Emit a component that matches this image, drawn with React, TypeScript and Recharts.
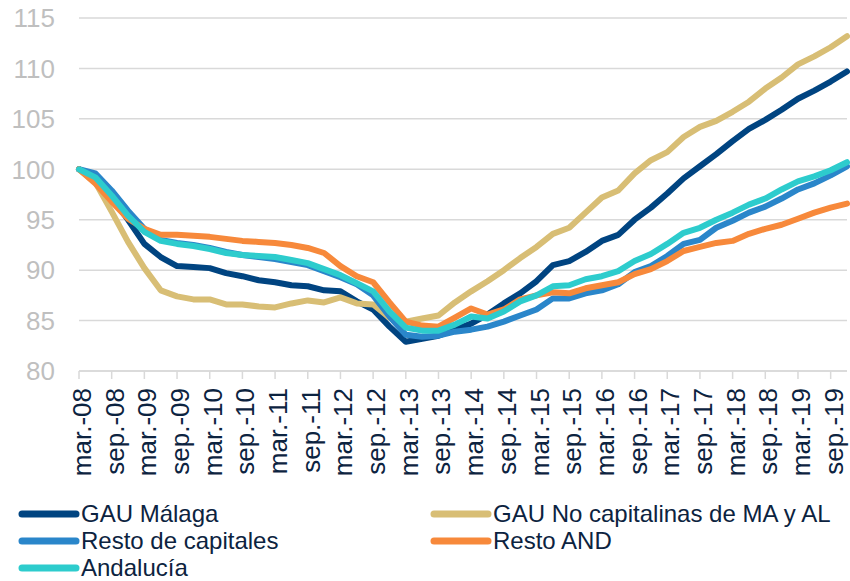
import { CartesianGrid, Legend, Line, LineChart, XAxis, YAxis } from "recharts";

const years = ["08", "09", "10", "11", "12", "13", "14", "15", "16", "17", "18", "19"];
const months = ["mar.", "jun.", "sep.", "dic."];
const quarters = years.flatMap((y) => months.map((m) => `${m}-${y}`));

const gauMalaga = [
  100, 99.2, 97.2, 95.0, 92.6, 91.3, 90.4, 90.3, 90.2, 89.7, 89.4, 89.0,
  88.8, 88.5, 88.4, 88.0, 87.9, 86.9, 86.1, 84.4, 82.9, 83.2, 83.5, 84.1,
  84.7, 85.6, 86.7, 87.7, 88.9, 90.5, 90.9, 91.8, 92.9, 93.5, 95.0, 96.2,
  97.6, 99.1, 100.3, 101.5, 102.8, 104.0, 104.9, 105.9, 107.0, 107.8, 108.7, 109.7,
];
const gauNoCapitalinas = [
  100, 98.7, 95.8, 92.8, 90.2, 88.0, 87.4, 87.1, 87.1, 86.6, 86.6, 86.4,
  86.3, 86.7, 87.0, 86.8, 87.3, 86.7, 86.6, 85.3, 84.9, 85.2, 85.5, 86.8,
  87.9, 88.9, 90.0, 91.2, 92.3, 93.6, 94.2, 95.7, 97.2, 97.9, 99.6, 100.9,
  101.7, 103.2, 104.2, 104.8, 105.7, 106.7, 108.0, 109.1, 110.4, 111.2, 112.1, 113.2,
];
const restoCapitales = [
  100, 99.6, 97.9, 95.9, 94.1, 93.0, 92.7, 92.5, 92.2, 91.8, 91.5, 91.3,
  91.1, 90.8, 90.5, 89.9, 89.3, 88.6, 87.5, 85.4, 83.6, 83.4, 83.5, 83.9,
  84.1, 84.4, 84.9, 85.5, 86.1, 87.2, 87.2, 87.7, 88.0, 88.6, 89.8, 90.4,
  91.4, 92.6, 93.0, 94.2, 94.9, 95.7, 96.3, 97.1, 98.0, 98.6, 99.4, 100.3,
];
const restoAnd = [
  100, 98.6, 96.8, 95.1, 94.1, 93.5, 93.5, 93.4, 93.3, 93.1, 92.9, 92.8,
  92.7, 92.5, 92.2, 91.7, 90.4, 89.4, 88.8, 86.8, 84.9, 84.5, 84.4, 85.3,
  86.2, 85.6, 86.1, 87.1, 87.5, 87.8, 87.7, 88.2, 88.5, 88.8, 89.6, 90.1,
  90.9, 91.9, 92.3, 92.7, 92.9, 93.6, 94.1, 94.5, 95.1, 95.7, 96.2, 96.6,
];
const andalucia = [
  100, 99.2, 97.4, 95.4, 93.8, 92.9, 92.6, 92.4, 92.1, 91.7, 91.5, 91.4,
  91.3, 91.0, 90.7, 90.1, 89.5, 88.7, 87.9, 85.9, 84.3, 84.0, 84.0, 84.6,
  85.4, 85.2, 85.9, 86.9, 87.5, 88.4, 88.5, 89.1, 89.4, 89.9, 90.9, 91.6,
  92.6, 93.7, 94.2, 95.0, 95.7, 96.5, 97.1, 98.0, 98.8, 99.3, 99.9, 100.7,
];
const yTicks = [80, 85, 90, 95, 100, 105, 110, 115];

const series = [
  { key: "malaga", name: "GAU Málaga", color: "#004481", values: gauMalaga },
  { key: "nocap", name: "GAU No capitalinas de MA y AL", color: "#d8be75", values: gauNoCapitalinas },
  { key: "resto", name: "Resto de capitales", color: "#2a86ca", values: restoCapitales },
  { key: "and", name: "Resto AND", color: "#f7893b", values: restoAnd },
  { key: "andalucia", name: "Andalucía", color: "#2dcccd", values: andalucia },
];

const data = quarters.map((q, i) => {
  const row: Record<string, string | number> = { q };
  series.forEach((s) => (row[s.key] = s.values[i]));
  return row;
});

const font = '"Liberation Sans", Arial, sans-serif';
const textDark = "#0c2340";

function XTick({ x, y, payload }: any) {
  return (
    <text
      x={x}
      y={y}
      dy={12}
      textAnchor="end"
      transform={`rotate(-90 ${x} ${y})`}
      fill={textDark}
      fontSize={26}
      fontFamily={font}
    >
      {payload.value}
    </text>
  );
}

function LegendBox() {
  return (
    <div
      style={{
        display: "grid",
        gridTemplateColumns: "412px 420px",
        paddingLeft: 18,
        fontFamily: font,
        fontSize: 24,
        lineHeight: "27px",
        color: textDark,
      }}
    >
      {series.map((s) => (
        <div key={s.key} style={{ display: "flex", alignItems: "center", height: 27 }}>
          <svg width={62} height={12}>
            <line x1={4} y1={6} x2={58} y2={6} stroke={s.color} strokeWidth={7} strokeLinecap="round" />
          </svg>
          <span style={{ marginLeft: 1, whiteSpace: "nowrap" }}>{s.name}</span>
        </div>
      ))}
    </div>
  );
}

export default function App() {
  return (
    <div style={{ position: "absolute", left: 0, top: 0, background: "#fff" }}>
      <LineChart width={850} height={581} data={data} margin={{ top: 18, right: 3, bottom: 0, left: 0 }}>
        <CartesianGrid vertical={false} stroke="#d9d9d9" strokeWidth={1.5} />
        <XAxis
          dataKey="q"
          interval={1}
          height={129}
          stroke="#d9d9d9"
          strokeWidth={1.5}
          tickSize={8}
          tickMargin={9}
          tick={<XTick />}
        />
        <YAxis
          domain={[80, 115]}
          ticks={yTicks}
          width={79}
          axisLine={false}
          tickLine={false}
          tickSize={8}
          tickMargin={16}
          tick={{ fill: "#bfbfbf", fontSize: 26, fontFamily: font }}
        />
        <Legend
          verticalAlign="bottom"
          content={<LegendBox />}
          wrapperStyle={{ height: 81, left: 0, width: 850 }}
        />
        {series.map((s) => (
          <Line
            key={s.key}
            dataKey={s.key}
            name={s.name}
            stroke={s.color}
            strokeWidth={6}
            strokeLinejoin="round"
            strokeLinecap="round"
            dot={false}
            isAnimationActive={false}
          />
        ))}
      </LineChart>
    </div>
  );
}
